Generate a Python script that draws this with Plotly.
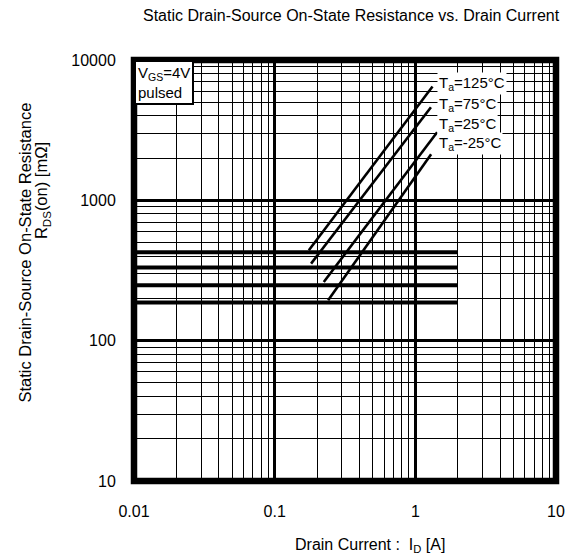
import plotly.graph_objects as go

# ---- data ----
ID_FLAT = [0.01, 2.0]                      # horizontal lines span (A)
RDS_FLAT = [427, 332, 248, 187]            # horizontal line levels (mOhm)
TEMPS = ["125", "75", "25", "-25"]         # Ta labels (degC)
ID_DIAG_START = [0.175, 0.1815, 0.2234, 0.240]
ID_DIAG_END = [1.325, 1.291, 1.429, 1.295]
RDS_DIAG_START = [441, 354, 262, 194]
RDS_DIAG_END = [6477, 4605, 3053, 2126]

X_TICKS = [0.01, 0.1, 1, 10]
X_TICK_TEXT = ["0.01", "0.1", "1", "10"]
Y_TICKS = [10, 100, 1000, 10000]
Y_TICK_TEXT = ["10", "100", "1000", "10000"]

FONT = "Liberation Sans, Arial, Helvetica, sans-serif"

fig = go.Figure()

for r in RDS_FLAT:
    fig.add_trace(go.Scatter(x=ID_FLAT, y=[r, r], mode="lines",
                             line=dict(color="black", width=4),
                             showlegend=False, hoverinfo="skip"))

for t, x0, x1, y0, y1 in zip(TEMPS, ID_DIAG_START, ID_DIAG_END, RDS_DIAG_START, RDS_DIAG_END):
    fig.add_trace(go.Scatter(x=[x0, x1], y=[y0, y1], mode="lines",
                             line=dict(color="black", width=2.6),
                             name=t, showlegend=False, hoverinfo="skip"))

def minor_vals(lo, hi):
    vals = []
    d = lo
    while d < hi:
        for k in range(2, 10):
            vals.append(k * d)
        d *= 10
    return vals

fig.update_xaxes(type="log", range=[-2, 1], automargin=False,
                 tickvals=X_TICKS, ticktext=X_TICK_TEXT,
                 showgrid=True, gridcolor="black", gridwidth=2.6,
                 minor=dict(tickvals=minor_vals(0.01, 10), showgrid=True,
                            gridcolor="black", gridwidth=1, ticks=""),
                 ticks="outside", ticklen=16, tickcolor="rgba(0,0,0,0)",
                 zeroline=False, showline=False,
                 tickfont=dict(family=FONT, size=16, color="black"))
fig.update_yaxes(type="log", range=[1, 4], automargin=False,
                 tickvals=Y_TICKS, ticktext=Y_TICK_TEXT,
                 showgrid=True, gridcolor="black", gridwidth=2.6,
                 minor=dict(tickvals=minor_vals(10, 10000), showgrid=True,
                            gridcolor="black", gridwidth=1, ticks=""),
                 ticks="outside", ticklen=14, tickcolor="rgba(0,0,0,0)",
                 zeroline=False, showline=False,
                 tickfont=dict(family=FONT, size=16, color="black"))

# frame
fig.add_shape(type="rect", xref="paper", yref="paper", x0=0, x1=1, y0=0, y1=1,
              line=dict(color="black", width=6.5), layer="above")

annotations = []
# temperature labels
label_y = [0.9437, 0.8948, 0.8474, 0.8014]
for t, ly in zip(TEMPS, label_y):
    annotations.append(dict(xref="paper", yref="paper", x=0.718, y=ly,
                            xanchor="left", yanchor="middle",
                            text=f"T<sub>a</sub>={t}°C", showarrow=False,
                            bgcolor="white", borderpad=1,
                            font=dict(family=FONT, size=15, color="black")))
# VGS box
annotations.append(dict(xref="paper", yref="paper", x=0.0, y=1.0,
                        xanchor="left", yanchor="top", align="left",
                        text="V<sub>GS</sub>=4V<br>pulsed", showarrow=False,
                        bgcolor="white", bordercolor="black", borderwidth=2, borderpad=2,
                        font=dict(family=FONT, size=15, color="black")))
# title
annotations.append(dict(xref="paper", yref="paper", x=0.515, y=1.106,
                        xanchor="center", yanchor="middle",
                        text="Static Drain-Source On-State Resistance vs. Drain Current",
                        showarrow=False, font=dict(family=FONT, size=16, color="black")))
# x title
annotations.append(dict(xref="paper", yref="paper", x=0.56, y=-0.154,
                        xanchor="center", yanchor="middle",
                        text="Drain Current :  I<sub>D</sub> [A]",
                        showarrow=False, font=dict(family=FONT, size=16, color="black")))
# y title (two lines)
annotations.append(dict(xref="paper", yref="paper", x=-0.258, y=0.543,
                        xanchor="center", yanchor="middle", textangle=-90,
                        text="Static Drain-Source On-State Resistance",
                        showarrow=False, font=dict(family=FONT, size=16.5, color="black")))
annotations.append(dict(xref="paper", yref="paper", x=-0.219, y=0.69,
                        xanchor="center", yanchor="middle", textangle=-90,
                        text="R<sub>DS</sub>(on) [mΩ]",
                        showarrow=False, font=dict(family=FONT, size=16.5, color="black")))

fig.update_layout(width=571, height=556,
                  margin=dict(l=134, r=15, t=60, b=75),
                  paper_bgcolor="white", plot_bgcolor="white",
                  hovermode=False,
                  annotations=annotations, showlegend=False)

fig.write_html("out.html",
               config={"displayModeBar": False, "staticPlot": True},
               post_script="document.body.style.margin='0';"
                           "document.body.style.overflow='hidden';"
                           "document.documentElement.style.overflow='hidden';")
